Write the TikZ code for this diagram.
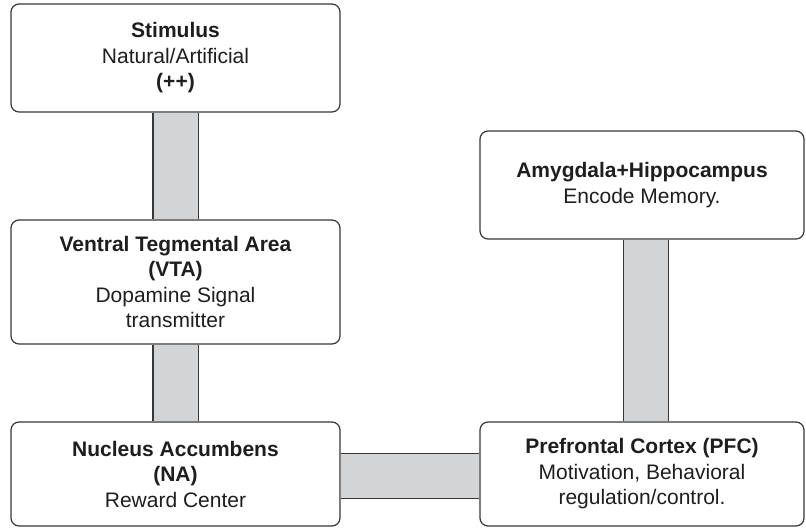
\documentclass[tikz,border=0pt]{standalone}
\usepackage{fontspec}
\setmainfont{Liberation Sans}
\usepackage{tikz}
\usetikzlibrary{backgrounds}
\definecolor{edgegray}{RGB}{55,55,55}
\definecolor{bargray}{RGB}{211,212,214}
\definecolor{inkgray}{RGB}{30,30,30}
\tikzstyle{area}=[draw=edgegray, line width=1.2pt, rounded corners=8pt, fill=white, align=center, inner sep=0pt, text=inkgray, font=\fontsize{21}{25.5}\selectfont]
\newcommand{\area}{\node[area]}
\tikzstyle{link}=[draw=edgegray, line width=1.2pt, double=bargray, double distance=44pt]

\begin{document}
\begin{tikzpicture}[x=1pt,y=-1pt]
            \useasboundingbox (0,0) rectangle (806,528);
            \area (stim) at (175.5,58) [minimum width=329pt, minimum height=108pt]
                {\textbf{Stimulus}\\Natural/Artificial\\\textbf{(++)}};
            \area (vta) at (175.5,282) [minimum width=329pt, minimum height=124pt]
                {\textbf{Ventral Tegmental Area}\\\textbf{(VTA)}\\Dopamine Signal\\transmitter};
            \area (na) at (175.5,474) [minimum width=329pt, minimum height=104pt]
                {\textbf{Nucleus Accumbens}\\\textbf{(NA)}\\Reward Center};
            \area (pfc) at (642,474) [minimum width=324pt, minimum height=104pt]
                {\textbf{Prefrontal Cortex (PFC)}\\Motivation, Behavioral\\regulation/control.};
            \area (amy) at (642,185) [minimum width=324pt, minimum height=108pt]
                {\textbf{Amygdala+Hippocampus}\\Encode Memory.};
            \begin{scope}[on background layer]
            \path 
                (stim) edge[link] (vta)
                (vta) edge[link] (na)
                (na) edge[link, transform canvas={yshift=-2pt}] (pfc)
                (amy) edge[link, transform canvas={xshift=4pt}] (pfc)
            ;
            \end{scope}
        \end{tikzpicture}
\end{document}
